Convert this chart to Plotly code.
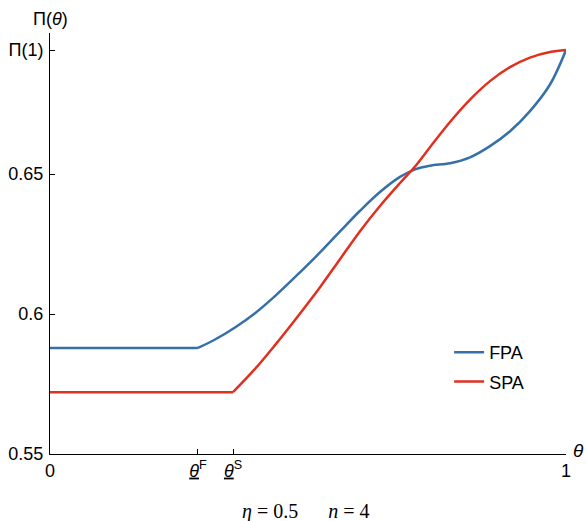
import plotly.graph_objects as go

# Data
theta_F = 0.2868
theta_S = 0.3547
pi_one = 0.6943

fpa_theta = [0.0, 0.2868, 0.3198, 0.3585, 0.3973, 0.4360, 0.4845, 0.5233, 0.5620, 0.6008,
             0.6395, 0.6783, 0.7074, 0.7364, 0.7752, 0.8140, 0.8527, 0.8915, 0.9302, 0.9690, 1.0]
fpa_pi = [0.5879, 0.5879, 0.5909, 0.5952, 0.6003, 0.6064, 0.6149, 0.6220, 0.6295, 0.6369,
          0.6436, 0.6490, 0.6517, 0.6530, 0.6539, 0.6560, 0.6600, 0.6653, 0.6725, 0.6820, 0.6943]

spa_theta = [0.0, 0.3547, 0.3973, 0.4360, 0.4748, 0.5233, 0.5620, 0.6008, 0.6395, 0.6783,
             0.7074, 0.7364, 0.7752, 0.8140, 0.8527, 0.8915, 0.9302, 0.9690, 1.0]
spa_pi = [0.5721, 0.5721, 0.5804, 0.5889, 0.5979, 0.6096, 0.6196, 0.6296, 0.6386, 0.6468,
          0.6527, 0.6596, 0.6686, 0.6766, 0.6832, 0.6882, 0.6916, 0.6936, 0.6943]

x_tickvals = [0, theta_F, theta_S, 1]
x_ticktext = ["0", "<u><i>θ</i></u><sup>F</sup>", "<u><i>θ</i></u><sup>S</sup>", "1"]
y_tickvals = [0.55, 0.6, 0.65, pi_one]
y_ticktext = ["0.55", "0.6", "0.65", "Π(1)"]

BLUE = "#3670a8"
RED = "#e03020"
FONT = "Liberation Sans, Arial, sans-serif"

fig = go.Figure()
fig.add_trace(go.Scatter(x=fpa_theta[:2], y=fpa_pi[:2], mode="lines",
                         line=dict(color=BLUE, width=2.5), name="FPA", legendgroup="a",
                         showlegend=True))
fig.add_trace(go.Scatter(x=fpa_theta[1:], y=fpa_pi[1:], mode="lines",
                         line=dict(color=BLUE, width=2.5, shape="spline", smoothing=1.0),
                         name="FPA", legendgroup="a", showlegend=False))
fig.add_trace(go.Scatter(x=spa_theta[:2], y=spa_pi[:2], mode="lines",
                         line=dict(color=RED, width=2.5), name="SPA", legendgroup="b",
                         showlegend=True))
fig.add_trace(go.Scatter(x=spa_theta[1:], y=spa_pi[1:], mode="lines",
                         line=dict(color=RED, width=2.5, shape="spline", smoothing=1.0),
                         name="SPA", legendgroup="b", showlegend=False))

axis_common = dict(showgrid=False, zeroline=False, showline=True, linecolor="black",
                   linewidth=1, ticks="inside", ticklen=5, tickcolor="black",
                   tickfont=dict(size=18, family=FONT), automargin=False)

fig.update_layout(
    width=587, height=521,
    margin=dict(l=50, r=21, t=33, b=67),
    plot_bgcolor="white", paper_bgcolor="white",
    font=dict(family=FONT, size=18, color="black"),
    showlegend=True,
    legend=dict(x=0.7735, y=0.285, xanchor="left", yanchor="top",
                bgcolor="rgba(0,0,0,0)", font=dict(size=18, family=FONT),
                tracegroupgap=3, itemwidth=30),
    xaxis=dict(range=[0, 1], tickvals=x_tickvals, ticktext=x_ticktext, **axis_common),
    yaxis=dict(range=[0.55, 0.7004], tickvals=y_tickvals, ticktext=y_ticktext,
               ticklabelstandoff=2, **axis_common),
    annotations=[
        dict(text="Π(<i>θ</i>)", xref="paper", yref="paper", x=0.0, y=1.0,
             xanchor="center", yanchor="bottom", yshift=2, showarrow=False,
             font=dict(size=18, family=FONT)),
        dict(text="<i>θ</i>", xref="paper", yref="paper", x=1.0, y=0.0,
             xanchor="left", yanchor="middle", xshift=5, yshift=4, showarrow=False,
             font=dict(size=19, family=FONT)),
        dict(text="<i>η</i> = 0.5&nbsp;&nbsp;&nbsp;&nbsp;&nbsp;&nbsp;<i>n</i> = 4",
             xref="paper", yref="paper",
             x=0.496, y=0, yshift=-57, xanchor="center", yanchor="middle",
             showarrow=False, font=dict(size=20, family="Liberation Serif, serif")),
    ],
)

fig.write_html("out.html", config={"displayModeBar": False},
               post_script="document.body.style.margin='0px';")
